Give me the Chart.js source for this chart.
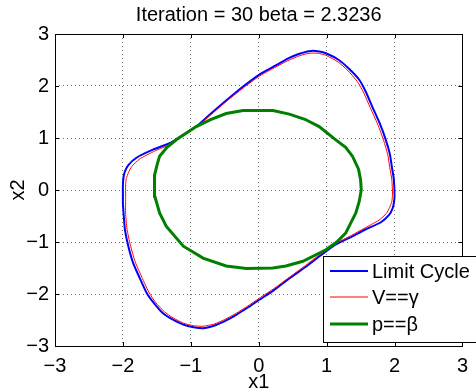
<!DOCTYPE html>
<html>
<head>
<meta charset="utf-8">
<script src="https://cdn.jsdelivr.net/npm/chart.js@4.4.1/dist/chart.umd.min.js"></script>
<style>
  html, body { margin: 0; padding: 0; background: #fff; }
</style>
</head>
<body>
<canvas id="grafico" width="476" height="389"></canvas>
<script>
// Valores
const tituloGrafico = 'Iteration = 30 beta = 2.3236';
const tickValores = [-3, -2, -1, 0, 1, 2, 3];
const tickRotulos = ['\u22123', '\u22122', '\u22121', '0', '1', '2', '3'];
const legendas = ['Limit Cycle', 'V==\u03b3', 'p==\u03b2'];

// Limit Cycle (azul)
const cicloX = [-2.00, -2.00, -1.99, -1.97, -1.92, -1.80, -1.55, -1.31, -1.11, -0.90, -0.72, -0.48, -0.23, 0.01, 0.16, 0.30, 0.45, 0.60, 0.74, 0.87, 0.99, 1.18, 1.33, 1.48, 1.58, 1.67, 1.78, 1.87, 1.93, 1.96, 1.99, 2.00, 1.99, 1.97, 1.92, 1.80, 1.57, 1.38, 1.13, 0.89, 0.70, 0.45, 0.23, 0.01, -0.16, -0.33, -0.50, -0.66, -0.82, -0.96, -1.11, -1.27, -1.41, -1.54, -1.65, -1.75, -1.85, -1.92, -1.97, -1.99, -2.00, -2.00];
const cicloY = [-0.12, 0.10, 0.25, 0.36, 0.48, 0.62, 0.78, 0.90, 1.06, 1.24, 1.45, 1.72, 1.99, 2.22, 2.33, 2.43, 2.54, 2.62, 2.67, 2.67, 2.63, 2.50, 2.33, 2.12, 1.88, 1.61, 1.29, 0.97, 0.70, 0.45, 0.20, -0.12, -0.25, -0.36, -0.48, -0.62, -0.76, -0.89, -1.05, -1.28, -1.47, -1.70, -1.92, -2.11, -2.26, -2.40, -2.52, -2.61, -2.66, -2.64, -2.59, -2.49, -2.37, -2.18, -1.98, -1.70, -1.40, -1.08, -0.76, -0.45, -0.25, -0.12];

// V == gamma (vermelho)
const vX = [-1.96, -1.96, -1.95, -1.92, -1.87, -1.76, -1.53, -1.30, -1.11, -0.90, -0.72, -0.48, -0.23, 0.01, 0.16, 0.30, 0.45, 0.60, 0.74, 0.87, 0.99, 1.17, 1.31, 1.45, 1.55, 1.64, 1.75, 1.84, 1.90, 1.93, 1.96, 1.97, 1.96, 1.93, 1.88, 1.77, 1.55, 1.37, 1.12, 0.88, 0.69, 0.45, 0.23, 0.01, -0.16, -0.33, -0.50, -0.66, -0.82, -0.96, -1.11, -1.26, -1.39, -1.52, -1.62, -1.72, -1.82, -1.89, -1.94, -1.96, -1.96, -1.96];
const vY = [-0.12, 0.10, 0.22, 0.33, 0.45, 0.59, 0.75, 0.88, 1.05, 1.23, 1.43, 1.70, 1.96, 2.19, 2.30, 2.40, 2.50, 2.58, 2.63, 2.63, 2.59, 2.46, 2.30, 2.09, 1.86, 1.59, 1.27, 0.95, 0.68, 0.43, 0.20, -0.08, -0.22, -0.33, -0.45, -0.58, -0.74, -0.87, -1.04, -1.26, -1.45, -1.68, -1.89, -2.08, -2.23, -2.37, -2.49, -2.58, -2.62, -2.61, -2.56, -2.46, -2.34, -2.16, -1.96, -1.68, -1.38, -1.06, -0.75, -0.44, -0.25, -0.12];

// p == beta (verde)
const pX = [-1.53, -1.54, -1.53, -1.50, -1.46, -1.35, -1.21, -0.92, -0.70, -0.48, -0.23, 0.21, 0.45, 0.68, 0.89, 1.13, 1.28, 1.38, 1.47, 1.50, 1.51, 1.48, 1.43, 1.28, 1.15, 0.99, 0.65, 0.40, 0.21, -0.18, -0.48, -0.82, -1.11, -1.36, -1.46, -1.53];
const pY = [-0.12, 0.08, 0.28, 0.47, 0.65, 0.82, 0.97, 1.22, 1.36, 1.47, 1.53, 1.53, 1.46, 1.36, 1.22, 0.97, 0.82, 0.65, 0.40, 0.20, 0.00, -0.22, -0.44, -0.83, -1.00, -1.15, -1.37, -1.46, -1.50, -1.51, -1.46, -1.31, -1.08, -0.70, -0.44, -0.12];

const fonte = 'Liberation Sans, Arial, Helvetica, sans-serif';

function juntarPontos(xs, ys) {
    return xs.map((x, i) => ({ x: x, y: ys[i] }));
}

// Titulo, moldura, marcas internas e legenda no estilo MATLAB
const molduraPlugin = {
    id: 'moldura',
    afterDraw(chart) {
        const ctx = chart.ctx;
        const area = chart.chartArea;
        const sx = chart.scales.x;
        const sy = chart.scales.y;
        ctx.save();

        // titulo centrado na area do grafico
        ctx.fillStyle = '#000';
        ctx.font = '20px ' + fonte;
        ctx.textAlign = 'center';
        ctx.textBaseline = 'middle';
        ctx.fillText(tituloGrafico, (area.left + area.right) / 2, 15);

        ctx.strokeStyle = '#000';
        ctx.lineWidth = 1;
        ctx.beginPath();
        tickValores.forEach(v => {
            const px = Math.round(sx.getPixelForValue(v)) + 0.5;
            ctx.moveTo(px, area.bottom); ctx.lineTo(px, area.bottom - 4);
            ctx.moveTo(px, area.top); ctx.lineTo(px, area.top + 4);
            const py = Math.round(sy.getPixelForValue(v)) + 0.5;
            ctx.moveTo(area.left, py); ctx.lineTo(area.left + 4, py);
            ctx.moveTo(area.right, py); ctx.lineTo(area.right - 4, py);
        });
        ctx.stroke();
        ctx.strokeRect(Math.round(area.left) + 0.5, Math.round(area.top) + 0.5,
            Math.round(area.right - area.left), Math.round(area.bottom - area.top));

        // legenda
        const lx = 323, ly = 256, lw = 170, lh = 86;
        ctx.fillStyle = '#fff';
        ctx.fillRect(lx, ly, lw, lh);
        ctx.strokeRect(lx + 0.5, ly + 0.5, lw, lh);
        const linhasY = [271, 297, 324];
        ctx.textAlign = 'left';
        ctx.textBaseline = 'middle';
        chart.data.datasets.forEach((ds, i) => {
            ctx.strokeStyle = ds.borderColor;
            ctx.lineWidth = ds.borderWidth;
            ctx.beginPath();
            ctx.moveTo(330, linhasY[i]);
            ctx.lineTo(368, linhasY[i]);
            ctx.stroke();
            ctx.fillStyle = '#000';
            ctx.fillText(ds.label, 372, linhasY[i] + 1);
        });
        ctx.restore();
    }
};

const eixoComum = {
    type: 'linear',
    min: -3,
    max: 3,
    afterBuildTicks: s => { s.ticks = tickValores.map(v => ({ value: v })); },
    grid: {
        color: 'rgba(0,0,0,0.55)',
        lineWidth: 1,
        drawTicks: false
    },
    border: { display: false, dash: [1, 3] }
};

new Chart(document.getElementById('grafico'), {
    type: 'scatter',
    data: {
        datasets: [
            {
                label: legendas[0],
                data: juntarPontos(cicloX, cicloY),
                showLine: true,
                borderColor: '#0000ff',
                borderWidth: 2,
                pointRadius: 0,
                tension: 0.2,
                order: 3
            },
            {
                label: legendas[1],
                data: juntarPontos(vX, vY),
                showLine: true,
                borderColor: '#ff0000',
                borderWidth: 1,
                pointRadius: 0,
                tension: 0.2,
                order: 2
            },
            {
                label: legendas[2],
                data: juntarPontos(pX, pY),
                showLine: true,
                borderColor: '#008000',
                borderWidth: 3,
                pointRadius: 0,
                tension: 0,
                order: 1
            }
        ]
    },
    options: {
        responsive: false,
        animation: false,
        layout: { padding: { left: 0, right: 12, top: 34, bottom: 0 } },
        scales: {
            x: Object.assign({}, eixoComum, {
                afterFit: s => { s.height = 43; },
                ticks: {
                    padding: 8,
                    color: '#000',
                    font: { family: fonte, size: 20 },
                    callback: v => tickRotulos[tickValores.indexOf(v)]
                },
                title: {
                    display: true,
                    text: 'x1',
                    color: '#000',
                    font: { family: fonte, size: 20, lineHeight: 0.7 },
                    padding: { top: 0, bottom: 0 }
                }
            }),
            y: Object.assign({}, eixoComum, {
                afterFit: s => { s.width = 55; },
                ticks: {
                    padding: 6,
                    color: '#000',
                    font: { family: fonte, size: 20 },
                    callback: v => tickRotulos[tickValores.indexOf(v)]
                },
                title: {
                    display: true,
                    text: 'x2',
                    color: '#000',
                    font: { family: fonte, size: 20, lineHeight: 1.2 },
                    padding: { top: 6, bottom: 0 }
                }
            })
        },
        plugins: {
            legend: { display: false },
            tooltip: { enabled: false },
            title: { display: false }
        }
    },
    plugins: [molduraPlugin]
});
</script>
</body>
</html>
